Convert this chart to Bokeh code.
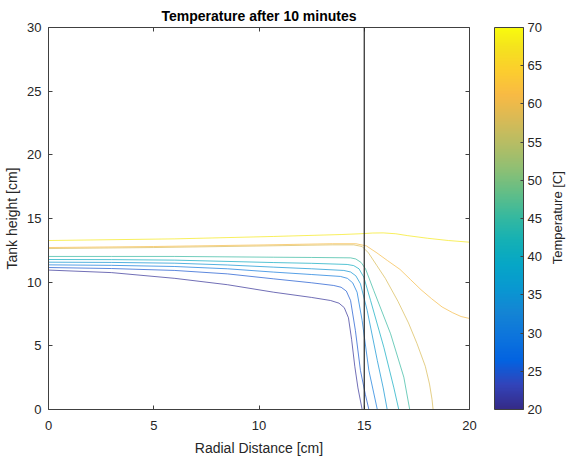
import math
import numpy as np
from bokeh.plotting import figure
from bokeh.models import (ColumnDataSource, LinearColorMapper, ColorBar, LinearAxis,
                          Span, FixedTicker)
from bokeh.transform import linear_cmap
from bokeh.embed import file_html
from bokeh.resources import INLINE

# ---------------- data ----------------
title_text = "Temperature after 10 minutes"
x_label = "Radial Distance [cm]"
y_label = "Tank height [cm]"
cbar_label = "Temperature [C]"
x_ticks = [0, 5, 10, 15, 20]
y_ticks = [0, 5, 10, 15, 20, 25, 30]
cbar_ticks = [20, 25, 30, 35, 40, 45, 50, 55, 60, 65, 70]
t_min, t_max = 20, 70
wall_x = 15

levels = [21, 25, 30, 35, 40, 45, 58, 61, 68]

c1_x = [0, 3, 6, 8.5, 10.7, 12.5, 13.4, 13.8, 14.05, 14.25, 14.4, 14.55, 14.7, 14.9]
c1_y = [10.95, 10.75, 10.3, 9.8, 9.21, 8.8, 8.56, 8.35, 8.0, 7.2, 5.5, 3.4, 1.7, 0]
c2_x = [0, 3, 6, 8.5, 10.7, 12.5, 13.55, 13.9, 14.15, 14.35, 14.58, 14.82, 15.05, 15.22]
c2_y = [11.15, 11.07, 10.92, 10.65, 10.26, 9.95, 9.74, 9.6, 9.3, 8.56, 6.2, 3.06, 1.2, 0]
c3_x = [0, 3, 6, 8.5, 10.7, 12.5, 13.87, 14.2, 14.45, 14.66, 14.9, 15.22, 15.45, 15.62]
c3_y = [11.36, 11.32, 11.23, 11.05, 10.79, 10.6, 10.45, 10.3, 9.95, 9.21, 6.99, 3.06, 1.3, 0]
c4_x = [0, 3, 6, 8.5, 10.7, 12.5, 14.03, 14.35, 14.6, 14.82, 15.14, 15.62, 15.9, 16.09]
c4_y = [11.57, 11.55, 11.49, 11.35, 11.18, 11.05, 10.92, 10.8, 10.5, 9.87, 7.78, 3.85, 1.7, 0]
c5_x = [0, 3, 6, 10.7, 12.5, 14.19, 14.5, 14.75, 14.98, 15.3, 15.93, 16.4, 16.64]
c5_y = [11.78, 11.77, 11.73, 11.54, 11.48, 11.39, 11.3, 11.05, 10.39, 8.56, 4.89, 1.75, 0]
c6_x = [0, 3, 6, 10.7, 12.5, 14.35, 14.6, 14.85, 15.06, 15.45, 16.25, 16.88, 17.16]
c6_y = [12.02, 12.02, 12.02, 11.96, 11.94, 11.91, 11.82, 11.55, 11.05, 9.35, 5.95, 2.54, 0]
c7_x = [0, 5, 10, 13.5, 14.5, 14.9, 15.2, 15.6, 16.0, 16.6, 17.1, 17.5, 17.9, 18.1, 18.22, 18.27]
c7_y = [12.64, 12.72, 12.84, 12.93, 12.93, 12.8, 12.3, 11.3, 10.3, 8.5, 6.8, 5.2, 3.4, 2.0, 0.8, 0]
c8_x = [0, 5, 10, 13.5, 14.6, 15.1, 15.6, 16.1, 16.7, 17.2, 17.7, 18.2, 18.7, 19.2, 19.6, 20]
c8_y = [12.72, 12.8, 12.92, 13.02, 13.02, 12.85, 12.3, 11.7, 11.0, 10.2, 9.4, 8.7, 8.05, 7.6, 7.3, 7.15]
c9_x = [0, 6, 10.7, 13.9, 14.8, 15.4, 15.9, 16.5, 17.04, 18.0, 19.0, 20]
c9_y = [13.27, 13.4, 13.59, 13.74, 13.8, 13.86, 13.87, 13.8, 13.66, 13.45, 13.27, 13.14]

# ---------------- colormap (parula) ----------------
_keys = [(0.2081, 0.1663, 0.5292), (0.1959, 0.2645, 0.7279), (0.0117, 0.3875, 0.8820),
         (0.0498, 0.4586, 0.8641), (0.0793, 0.5200, 0.8312), (0.0343, 0.5966, 0.8199),
         (0.0228, 0.6535, 0.7768), (0.0843, 0.6928, 0.7062), (0.2178, 0.7250, 0.6193),
         (0.3953, 0.7459, 0.5244), (0.5709, 0.7485, 0.4494), (0.7184, 0.7411, 0.3905),
         (0.8507, 0.7299, 0.3360), (0.9739, 0.7314, 0.2666), (0.9880, 0.8066, 0.1794),
         (0.9589, 0.8949, 0.1132), (0.9763, 0.9831, 0.0538)]
_kpos = [i * 4 for i in range(16)] + [63]
_arr = np.array(_keys)
parula = []
for t in np.linspace(0, 63, 256):
    rgb = [np.interp(t, _kpos, _arr[:, k]) for k in range(3)]
    parula.append("#%02x%02x%02x" % tuple(int(round(c * 255)) for c in rgb))

FONT = "Liberation Sans"
TXT = "#262626"
AX = "#404040"

p = figure(width=579, height=465, x_range=(0, 20), y_range=(0, 30),
           output_backend="svg", toolbar_location=None, title=title_text,
           min_border_left=48, min_border_right=110, min_border_top=27, min_border_bottom=56)
p.grid.visible = False
p.outline_line_color = None
p.title.align = "center"
p.title.text_font = FONT
p.title.text_font_size = "14px"
p.title.text_font_style = "bold"
p.title.text_color = "#000000"
p.title.standoff = 8
p.title.offset = 0

src = ColumnDataSource(dict(
    xs=[c1_x, c2_x, c3_x, c4_x, c5_x, c6_x, c7_x, c8_x, c9_x],
    ys=[c1_y, c2_y, c3_y, c4_y, c5_y, c6_y, c7_y, c8_y, c9_y],
    level=levels))
p.multi_line(xs="xs", ys="ys", source=src, line_width=1, line_alpha=0.7,
             line_color=linear_cmap("level", parula, t_min, t_max))

p.add_layout(Span(location=wall_x, dimension="height", line_color="#262626", line_width=1.2))

for ax in (p.xaxis[0], p.yaxis[0]):
    ax.major_tick_in = 4
    ax.major_tick_out = 0
    ax.minor_tick_line_color = None
    ax.axis_line_color = AX
    ax.major_tick_line_color = AX
    ax.major_label_text_font = FONT
    ax.major_label_text_font_size = "13px"
    ax.major_label_text_color = TXT
    ax.axis_label_text_font = FONT
    ax.axis_label_text_font_size = "14px"
    ax.axis_label_text_font_style = "normal"
    ax.axis_label_text_color = TXT
p.xaxis.ticker = FixedTicker(ticks=x_ticks)
p.yaxis.ticker = FixedTicker(ticks=y_ticks)
p.xaxis.axis_label = x_label
p.yaxis.axis_label = y_label
p.xaxis.major_label_standoff = 11
p.yaxis.major_label_standoff = 7
p.xaxis.axis_label_standoff = 7
p.yaxis.axis_label_standoff = 4

# box ticks on top and right
for loc, tk in (("above", x_ticks), ("right", y_ticks)):
    a = LinearAxis(ticker=FixedTicker(ticks=tk), major_tick_in=4, major_tick_out=0,
                   minor_tick_line_color=None, axis_line_color=AX, major_tick_line_color=AX,
                   major_label_text_font_size="1px", major_label_text_color=None,
                   major_label_standoff=0)
    p.add_layout(a, loc)

# colour bar
mapper = LinearColorMapper(palette=parula, low=t_min, high=t_max)
cb = ColorBar(color_mapper=mapper, location=(446, 0), width=29, height=382,
              padding=0, margin=0, ticker=FixedTicker(ticks=cbar_ticks),
              major_tick_in=3, major_tick_out=0, major_tick_line_color=AX,
              minor_tick_line_color=None,
              major_label_text_font=FONT, major_label_text_font_size="13px",
              major_label_text_color=TXT, label_standoff=4,
              bar_line_color=AX, border_line_color=None, background_fill_color=None)
p.add_layout(cb, "center")

# colour bar label (rotated, reads bottom-to-top), centred on the bar
lab_pos = 11.4
lab_ax = LinearAxis(ticker=FixedTicker(ticks=[lab_pos]), major_label_overrides={lab_pos: cbar_label},
                    major_label_orientation=math.pi / 2, major_label_standoff=88,
                    axis_line_color=None, major_tick_line_color=None, minor_tick_line_color=None,
                    major_tick_in=0, major_tick_out=0,
                    major_label_text_font=FONT, major_label_text_font_size="13px",
                    major_label_text_color=TXT)
p.add_layout(lab_ax, "right")

open("out.html", "w").write(file_html(p, INLINE))
